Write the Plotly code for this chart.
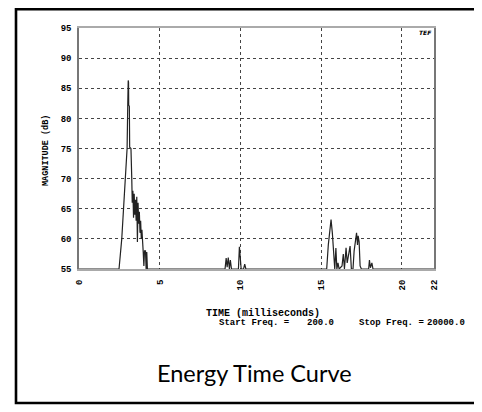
import plotly.graph_objects as go

# ---- data ----
time_ms = [0.0, 2.48, 2.65, 2.80, 2.92, 2.98, 3.02, 3.05, 3.07, 3.08, 3.12, 3.14, 3.22, 3.27,
           3.30, 3.34, 3.38, 3.42, 3.46, 3.50, 3.54, 3.58, 3.62, 3.66, 3.70, 3.74, 3.78, 3.82,
           3.86, 3.90, 3.94, 3.98, 4.02, 4.06, 4.12, 4.16, 4.20, 4.24,
           9.05, 9.12, 9.18, 9.25, 9.32, 9.38, 9.45, 9.88, 9.94, 10.00, 10.05, 10.20, 10.27, 10.34,
           15.35, 15.45, 15.55, 15.62, 15.70, 15.78, 15.85, 15.92, 15.98, 16.05, 16.12, 16.30,
           16.38, 16.45, 16.55, 16.62, 16.72, 16.80, 16.88, 16.98, 17.05, 17.12, 17.20, 17.26,
           17.30, 17.36, 17.42, 17.50, 17.95, 18.00, 18.06, 18.15, 18.22, 22.0]
magnitude_db = [55, 55, 60, 66, 71, 75, 82, 86.3, 86, 82.2, 82, 75.2, 75, 70,
                66, 68, 63.5, 67.5, 64, 66.5, 63, 67, 59.5, 66, 62.5, 64.5, 61, 63,
                60, 61.5, 58, 57.8, 55.5, 58, 58, 55, 57.8, 55,
                55, 56.8, 55.3, 56.9, 55, 56.5, 55, 55, 58.7, 57, 55, 55, 55.8, 55,
                55, 59, 62, 63.2, 61, 57, 55, 58.5, 55, 56, 55, 55.5,
                57.5, 55, 58.5, 56, 57.5, 58.8, 55, 55, 58, 60, 61, 59,
                60.5, 59.5, 55.5, 55, 55, 56.5, 55.2, 56, 55, 55]

x_ticks = [0, 5, 10, 15, 20, 22]
y_ticks = [55, 60, 65, 70, 75, 80, 85, 90, 95]

# ---- layout helpers (reference pixel -> paper) ----
OFF = 8                      # page body margin
W, H = 482 - OFF, 412 - OFF
L, R, T, B = 79, 434, 28, 269
def px(x):
    return (x - L) / (R - L)
def py(y):
    return (B - y) / (B - T)

mono = dict(family="Liberation Mono", size=9, color="black", weight="bold")

fig = go.Figure()
fig.add_trace(go.Scatter(x=time_ms, y=magnitude_db, mode="lines",
                         line=dict(color="#222222", width=1.2), showlegend=False,
                         hoverinfo="skip"))

axis_common = dict(showgrid=True, gridcolor="#444444", griddash="dot", gridwidth=1,
                   zeroline=False, showline=True, mirror=True, ticks="",
                   tickfont=mono)

fig.update_xaxes(range=[0, 22], tickvals=x_ticks, ticktext=[str(v) for v in x_ticks],
                 tickangle=-90, linecolor="#aaaaaa", linewidth=2,
                 ticklabelstandoff=5, **axis_common)
fig.update_yaxes(range=[55, 95], tickvals=y_ticks, ticktext=[str(v) for v in y_ticks],
                 linecolor="#777777", linewidth=1.5, ticklabelstandoff=4, **axis_common)

nb = "\u00a0"
f9 = dict(family="Liberation Mono", size=9, color="black", weight="bold")
annotations = [
    dict(x=px(46), y=py(151), text="MAGNITUDE" + nb + "(dB)", textangle=-90,
         font=dict(family="Liberation Mono", size=8.5, color="black", weight="bold")),
    dict(x=px(204), y=py(313), text="TIME" + nb + "(milliseconds)", xanchor="left",
         font=dict(family="Liberation Mono", size=10, color="black", weight="bold")),
    dict(x=px(217), y=py(323), text="Start" + nb + "Freq." + nb + "=", xanchor="left", font=f9),
    dict(x=px(305), y=py(323), text="200.0", xanchor="left", font=f9),
    dict(x=px(357), y=py(323), text="Stop" + nb + "Freq." + nb + "=", xanchor="left", font=f9),
    dict(x=px(467), y=py(323), text="20000.0", xanchor="right", font=f9),
    dict(x=px(254), y=py(373), text="Energy Time Curve",
         font=dict(family="Lato", size=23.5, color="black")),
    dict(x=px(425), y=py(32), text="<i><b>TEF</b></i>",
         font=dict(family="DejaVu Sans", size=6, color="black")),
]
for a in annotations:
    a.setdefault("xanchor", "center")
    a.update(xref="paper", yref="paper", showarrow=False, yanchor="middle")

fig.update_layout(
    width=W, height=H, autosize=False,
    margin=dict(l=L - OFF, r=W - (R - OFF), t=T - OFF, b=H - (B - OFF)),
    paper_bgcolor="white", plot_bgcolor="white",
    annotations=annotations,
    shapes=[dict(type="rect", xref="paper", yref="paper",
                 x0=px(16), x1=px(478), y0=py(403), y1=py(9.3),
                 line=dict(color="black", width=2.6))],
)

fig.write_html("out.html")
